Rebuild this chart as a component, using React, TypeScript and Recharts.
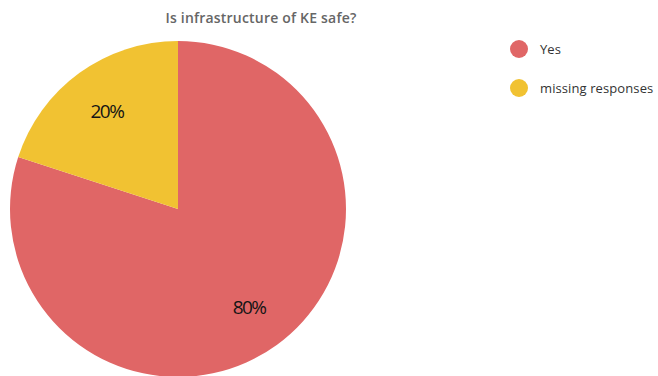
import { PieChart, Pie, Cell, Legend } from "recharts";

const categories = ["Yes", "missing responses"];
const shares = [80, 20];
const colors = ["#e06666", "#f1c232"];
const chartTitle = "Is infrastructure of KE safe?";

const data = categories.map((name, i) => ({ name, value: shares[i] }));

const RADIAN = Math.PI / 180;

const renderLabel = (props: any) => {
  const { cx, cy, midAngle, outerRadius, percent } = props;
  const r = outerRadius * 0.72;
  const x = cx + r * Math.cos(-midAngle * RADIAN);
  const y = cy + r * Math.sin(-midAngle * RADIAN);
  return (
    <text x={x} y={y} fill="#151515" textAnchor="middle" dominantBaseline="central"
          fontSize={19} fontWeight={500} fontFamily="Open Sans, sans-serif" letterSpacing={-1.5}>
      {`${Math.round(percent * 100)}%`}
    </text>
  );
};

const renderLegend = () => (
  <div>
    {data.map((d, i) => (
      <div key={d.name} style={{ display: "flex", alignItems: "center", height: 39 }}>
        <span style={{ width: 18, height: 18, borderRadius: 9, background: colors[i], display: "inline-block" }} />
        <span style={{ marginLeft: 12, fontSize: 13, color: "#333", fontFamily: "Open Sans, sans-serif", letterSpacing: 0.1 }}>
          {d.name}
        </span>
      </div>
    ))}
  </div>
);

export default function App() {
  return (
    <div style={{ position: "absolute", left: 0, top: 0, width: 658, height: 376 }}>
      <div style={{ position: "absolute", left: 0, top: 8, width: 522, textAlign: "center",
                    fontFamily: "Open Sans, sans-serif", fontSize: 14, fontWeight: 600, color: "#666", letterSpacing: 0.2 }}>
        {chartTitle}
      </div>
      <PieChart width={658} height={376} margin={{ top: 0, right: 0, bottom: 0, left: 0 }}>
        <Pie data={data} dataKey="value" nameKey="name" cx={178} cy={209} outerRadius={168}
             startAngle={90} endAngle={-270} stroke="none" label={renderLabel} labelLine={false}
             isAnimationActive={false}>
          {data.map((d, i) => <Cell key={d.name} fill={colors[i]} />)}
        </Pie>
        <Legend layout="vertical" align="right" verticalAlign="top" content={renderLegend}
                wrapperStyle={{ left: 510, right: "auto", top: 29, width: 148 }} />
      </PieChart>
    </div>
  );
}
